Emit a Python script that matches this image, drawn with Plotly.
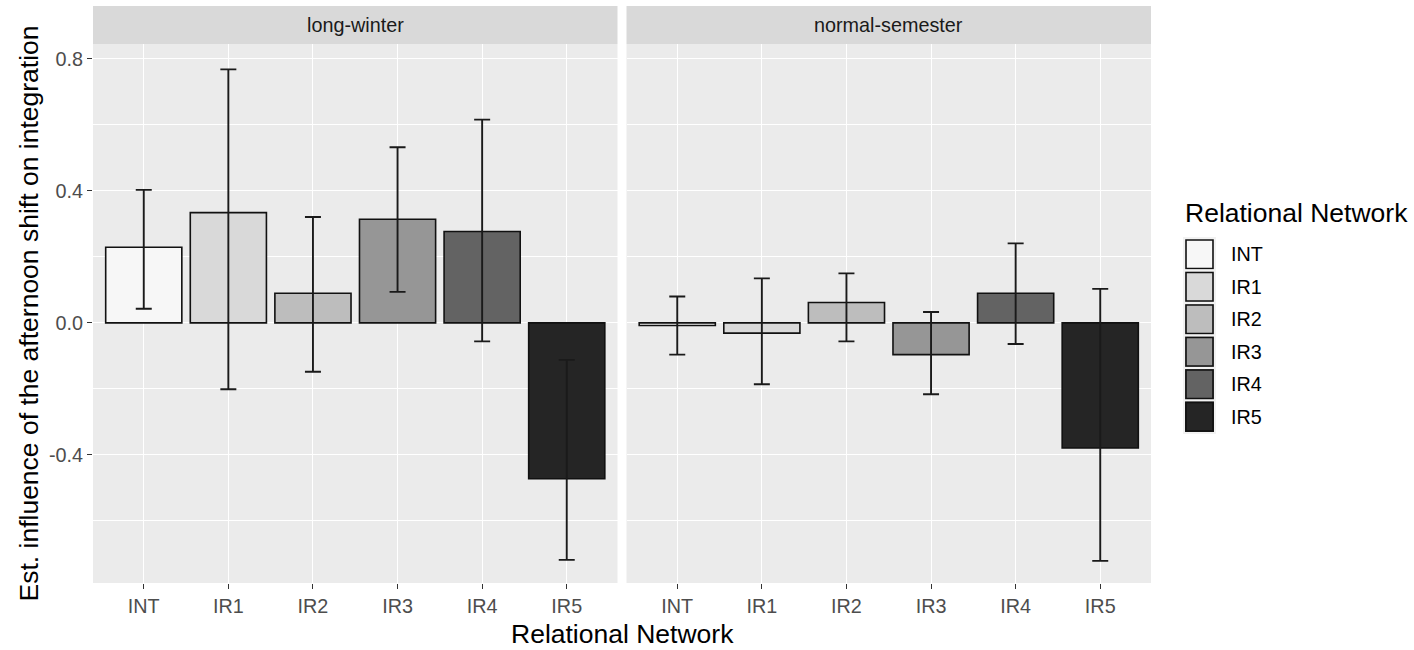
import plotly.graph_objects as go
from plotly.subplots import make_subplots

# ---- data ----
categories = ["INT", "IR1", "IR2", "IR3", "IR4", "IR5"]
panels = ["long-winter", "normal-semester"]
fill_colors = ["#F7F7F7", "#D9D9D9", "#BDBDBD", "#969696", "#636363", "#252525"]

lw_est = [0.229, 0.334, 0.090, 0.314, 0.277, -0.472]
lw_lo = [0.043, -0.201, -0.148, 0.094, -0.056, -0.718]
lw_hi = [0.403, 0.768, 0.321, 0.532, 0.616, -0.112]

ns_est = [-0.008, -0.031, 0.062, -0.096, 0.090, -0.379]
ns_lo = [-0.096, -0.186, -0.056, -0.216, -0.064, -0.721]
ns_hi = [0.080, 0.135, 0.150, 0.033, 0.241, 0.103]

y_major = [-0.4, 0.0, 0.4, 0.8]
y_major_text = ["-0.4", "0.0", "0.4", "0.8"]
y_minor = [-0.6, -0.2, 0.2, 0.6]

panel_data = [(lw_est, lw_lo, lw_hi), (ns_est, ns_lo, ns_hi)]

# ---- layout geometry (pixels) ----
W, H = 1414, 650
ML, MR, MT, MB = 93, 263, 44, 67
PW = W - ML - MR
PH = H - MT - MB
gap = 9
half = (PW - gap) / 2
dom1 = [0, half / PW]
dom2 = [(half + gap) / PW, 1]

def px_x(px):
    return (px - ML) / PW

def px_y(py):
    return (H - MB - py) / PH

fig = make_subplots(rows=1, cols=2, shared_yaxes=True, horizontal_spacing=0.01)

FONT = "Liberation Sans, Arial, sans-serif"
TITLE_SIZE = 26.5
SMALL_SIZE = 19.8

for p, (est, lo, hi) in enumerate(panel_data):
    for i, cat in enumerate(categories):
        fig.add_trace(
            go.Bar(
                x=[cat],
                y=[est[i]],
                width=0.9,
                marker=dict(color=fill_colors[i], line=dict(color="#111111", width=1.6)),
                error_y=dict(
                    type="data",
                    symmetric=False,
                    array=[hi[i] - est[i]],
                    arrayminus=[est[i] - lo[i]],
                    color="#1a1a1a",
                    thickness=1.9,
                    width=8,
                ),
                name=cat,
                showlegend=False,
                hoverinfo="skip",
            ),
            row=1,
            col=p + 1,
        )

axis_common = dict(
    showgrid=True,
    gridcolor="white",
    gridwidth=1.1,
    zeroline=False,
    ticks="outside",
    ticklen=5,
    tickwidth=1.1,
    tickcolor="#333333",
    tickfont=dict(family=FONT, size=SMALL_SIZE, color="#4D4D4D"),
    showline=False,
)

fig.update_xaxes(
    **axis_common,
    type="category",
    categoryorder="array",
    categoryarray=categories,
    range=[-0.6, 5.6],
    automargin=False,
)
fig.update_layout(xaxis=dict(domain=dom1), xaxis2=dict(domain=dom2))

fig.update_yaxes(
    **axis_common,
    range=[-0.788, 0.845],
    tickvals=y_major,
    ticktext=y_major_text,
    minor=dict(tickvals=y_minor, showgrid=True, gridcolor="white", gridwidth=0.55, ticks=""),
    automargin=False,
)
fig.update_yaxes(showticklabels=False, ticks="", row=1, col=2)
fig.update_yaxes(
    title=dict(
        text="Est. influence of the afternoon shift on integration",
        font=dict(family=FONT, size=TITLE_SIZE, color="black"),
        standoff=2,
    ),
    row=1,
    col=1,
)

shapes = []
annotations = []

# strips
for p, dom in enumerate([dom1, dom2]):
    shapes.append(dict(type="rect", xref="paper", yref="paper",
                       x0=dom[0], x1=dom[1], y0=1.0, y1=1.0 + 38 / PH,
                       fillcolor="#D9D9D9", line=dict(width=0), layer="below"))
    annotations.append(dict(xref="paper", yref="paper", x=(dom[0] + dom[1]) / 2,
                            y=1.0 + 19 / PH, text=panels[p], showarrow=False,
                            xanchor="center", yanchor="middle",
                            font=dict(family=FONT, size=SMALL_SIZE, color="#1A1A1A")))

# x axis title
annotations.append(dict(xref="paper", yref="paper", x=0.5, y=px_y(634),
                        text="Relational Network", showarrow=False,
                        xanchor="center", yanchor="middle",
                        font=dict(family=FONT, size=TITLE_SIZE, color="black")))

# custom legend
annotations.append(dict(xref="paper", yref="paper", x=px_x(1183), y=px_y(213),
                        text="Relational Network", showarrow=False,
                        xanchor="left", yanchor="middle",
                        font=dict(family=FONT, size=TITLE_SIZE, color="black")))
key_top, key_h = 238, 32.5
for i, cat in enumerate(categories):
    y0 = key_top + i * key_h
    shapes.append(dict(type="rect", xref="paper", yref="paper",
                       x0=px_x(1184), x1=px_x(1215), y0=px_y(y0 + key_h), y1=px_y(y0),
                       fillcolor=fill_colors[i], line=dict(color="#F2F2F2", width=2)))
    shapes.append(dict(type="rect", xref="paper", yref="paper",
                       x0=px_x(1186), x1=px_x(1213), y0=px_y(y0 + key_h - 2), y1=px_y(y0 + 2),
                       fillcolor=fill_colors[i], line=dict(color="#111111", width=1.6)))
    annotations.append(dict(xref="paper", yref="paper", x=px_x(1229), y=px_y(y0 + key_h / 2),
                            text=cat, showarrow=False, xanchor="left", yanchor="middle",
                            font=dict(family=FONT, size=SMALL_SIZE, color="black")))

fig.update_layout(
    width=W,
    height=H,
    margin=dict(l=ML, r=MR, t=MT, b=MB),
    barmode="overlay",
    plot_bgcolor="#EBEBEB",
    paper_bgcolor="white",
    showlegend=False,
    shapes=shapes,
    annotations=annotations,
    font=dict(family=FONT),
)

fig.write_html(
    "out.html",
    config={"displayModeBar": False},
    post_script="document.body.style.margin='0px'; document.body.style.overflow='hidden';",
)
